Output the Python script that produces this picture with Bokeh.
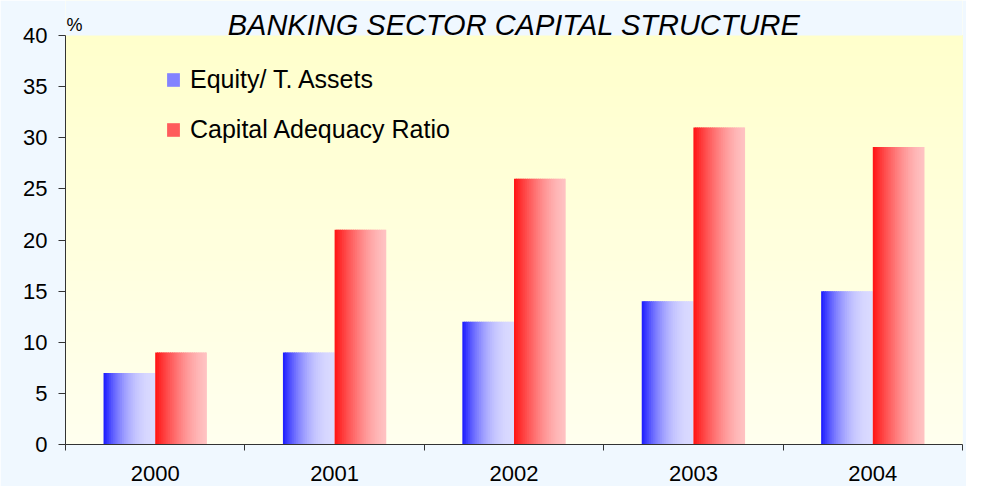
from bokeh.plotting import figure
from bokeh.models import (ColumnDataSource, FixedTicker, BoxAnnotation, Label,
                          Legend, LegendItem, Range1d)
from bokeh.embed import file_html
from bokeh.resources import INLINE

# ---- data ----
years = ["2000", "2001", "2002", "2003", "2004"]
equity_to_assets = [7, 9, 12, 14, 15]
capital_adequacy = [9, 21, 26, 31, 29.1]
series_names = ["Equity/ T. Assets", "Capital Adequacy Ratio"]
y_ticks = [0, 5, 10, 15, 20, 25, 30, 35, 40]
title_text = "BANKING SECTOR CAPITAL STRUCTURE"
unit_text = "%"

# ---- styles / layout ----
FONT = "Liberation Sans"
BAR_W = 0.288          # width of one bar, in category units
N_STRIPS = 28          # strips used to imitate the horizontal gradient
AXIS_COLOR = "#333333"
PAGE_BG = "#F0F8FF"
W, H = 966, 486
BOTTOM = 42            # room for the x labels
FRAME_H = H - BOTTOM
TOP_GAP = 35           # px between canvas top and the value 40


def hexc(c):
    return "#%02x%02x%02x" % tuple(int(round(v)) for v in c)


def lerp(c0, c1, f):
    return tuple(a + (b - a) * f for a, b in zip(c0, c1))


def ease(t, pw):
    return 1 - (1 - t) ** pw


series_styles = [
    # (values, offset of bar left edge in bar widths, start colour, end colour, easing)
    (equity_to_assets, -1.0, (25, 25, 255), (218, 218, 255), 2.2),
    (capital_adequacy, 0.0, (255, 18, 18), (255, 194, 194), 1.5),
]

y_max = y_ticks[-1]
y_view_top = y_max * FRAME_H / (FRAME_H - TOP_GAP)

p = figure(width=W, height=H, title=None,
           x_range=Range1d(0, len(years)), y_range=Range1d(0, y_view_top),
           output_backend="svg", toolbar_location=None,
           min_border_left=65, min_border_right=4,
           min_border_top=0, min_border_bottom=BOTTOM,
           background_fill_color="#FFFFEC", border_fill_color=PAGE_BG,
           outline_line_color=None)

# vertical background gradient of the plot area (0..40)
n_bands = 40
top_c, bot_c = (255, 255, 204), (255, 255, 238)
for k in range(n_bands):
    p.add_layout(BoxAnnotation(bottom=y_max * k / n_bands, top=y_max,
                               fill_color=hexc(lerp(bot_c, top_c, k / (n_bands - 1))),
                               fill_alpha=1.0, line_color=None, level="underlay"))
# area above the value 40 belongs to the page background
p.add_layout(BoxAnnotation(bottom=y_max, fill_color=PAGE_BG, fill_alpha=1.0,
                           line_color=None, level="underlay"))

renderers = []
for values, offset, c0, c1, pw in series_styles:
    lefts, rights, tops, colors = [], [], [], []
    for i, v in enumerate(values):
        center = i + 0.5
        bar_left = center + offset * BAR_W
        bar_right = bar_left + BAR_W
        for k in range(N_STRIPS):
            lefts.append(bar_left + BAR_W * k / N_STRIPS)
            rights.append(min(bar_left + BAR_W * (k + 1.6) / N_STRIPS, bar_right))
            tops.append(v)
            colors.append(hexc(lerp(c0, c1, ease((k + 0.5) / N_STRIPS, pw))))
    src = ColumnDataSource(dict(left=lefts, right=rights, top=tops, color=colors))
    r = p.quad(left="left", right="right", top="top", bottom=0, source=src,
               fill_color="color", line_color=None)
    renderers.append(r)

legend = Legend(
    items=[LegendItem(label=series_names[0], renderers=[renderers[0]], index=int(N_STRIPS * 0.3)),
           LegendItem(label=series_names[1], renderers=[renderers[1]], index=int(N_STRIPS * 0.3))],
    location=(100, 298), orientation="vertical",
    label_text_font=FONT, label_text_font_size="25px", label_text_color="black",
    glyph_width=16, glyph_height=17, label_standoff=9, label_height=34,
    spacing=16, padding=0, margin=0,
    border_line_color=None, background_fill_alpha=0)
p.add_layout(legend)

# x axis: labels at category centres, tick marks between categories
p.xaxis.ticker = FixedTicker(ticks=[i + 0.5 for i in range(len(years))],
                             minor_ticks=list(range(len(years) + 1)))
p.xaxis.major_label_overrides = {i + 0.5: y for i, y in enumerate(years)}
p.xaxis.major_tick_out = 0
p.xaxis.major_tick_in = 0
p.xaxis.minor_tick_out = 6
p.xaxis.minor_tick_in = 0
p.xaxis.minor_tick_line_color = AXIS_COLOR
p.xaxis.axis_line_color = AXIS_COLOR
p.xaxis.major_label_standoff = 15
p.xaxis.major_label_text_font = FONT
p.xaxis.major_label_text_font_size = "22px"
p.xaxis.major_label_text_color = "black"

p.yaxis.ticker = FixedTicker(ticks=y_ticks)
p.yaxis.bounds = (0, y_max)
p.yaxis.major_tick_out = 7
p.yaxis.major_tick_in = 0
p.yaxis.major_tick_line_color = AXIS_COLOR
p.yaxis.minor_tick_line_color = None
p.yaxis.axis_line_color = AXIS_COLOR
p.yaxis.major_label_standoff = 11
p.yaxis.major_label_text_font = FONT
p.yaxis.major_label_text_font_size = "22px"
p.yaxis.major_label_text_color = "black"

p.xgrid.visible = False
p.ygrid.visible = False

p.add_layout(Label(x=len(years) / 2, y=y_max, y_offset=11, text=title_text,
                   text_align="center", text_baseline="alphabetic",
                   text_font=FONT, text_font_style="italic",
                   text_font_size="29px", text_color="black"))
p.add_layout(Label(x=0, y=y_max, x_offset=1, y_offset=11, text=unit_text,
                   text_align="left", text_baseline="alphabetic",
                   text_font=FONT, text_font_size="18px", text_color="black"))

open("out.html", "w").write(file_html(p, INLINE))
